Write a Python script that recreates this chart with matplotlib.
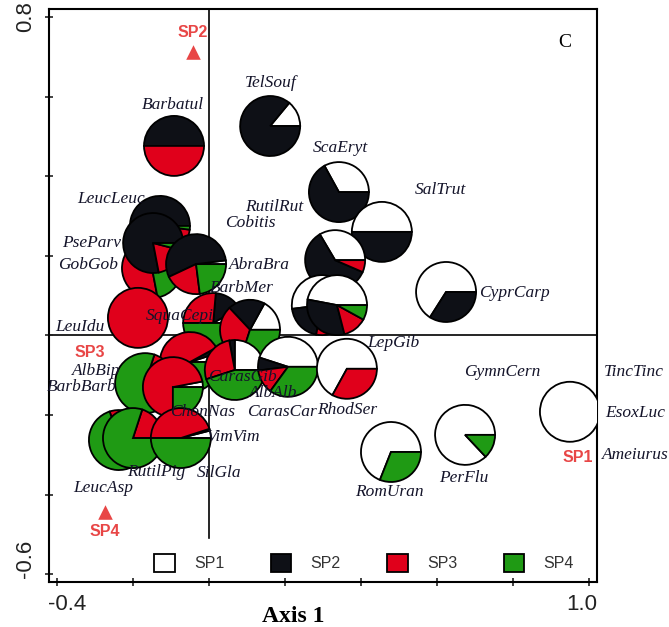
import matplotlib.pyplot as plt
import numpy as np
from matplotlib.patches import Wedge, Patch
from matplotlib.transforms import ScaledTranslation

groups = ["SP1", "SP2", "SP3", "SP4"]
group_colors = ["white", "#0e1016", "#e0001b", "#1f9a14"]

# pie centres on axis 1 / axis 2 and their shares of SP1..SP4
pie_x = [-0.092, 0.161, 0.342, 0.455, 0.332, 0.297, 0.337, 0.624,
         -0.150, -0.129, -0.147, -0.034, -0.187, 0.011, 0.108, -0.050,
         0.068, 0.208, -0.168, -0.095, -0.237, -0.200, -0.074,
         0.363, 0.479, 0.674, 0.950]
pie_y = [0.476, 0.526, 0.360, 0.260, 0.189, 0.076, 0.076, 0.109,
         0.169, 0.275, 0.232, 0.179, 0.044, 0.031, 0.014, -0.067,
         -0.087, -0.079, -0.120, -0.130, -0.263, -0.258, -0.258,
         -0.084, -0.293, -0.250, -0.192]
pie_shares = [
    [0.00, 0.50, 0.50, 0.00],
    [0.14, 0.86, 0.00, 0.00],
    [0.33, 0.67, 0.00, 0.00],
    [0.50, 0.50, 0.00, 0.00],
    [0.335, 0.60, 0.065, 0.00],
    [0.52, 0.20, 0.18, 0.10],
    [0.47, 0.32, 0.13, 0.08],
    [0.66, 0.34, 0.00, 0.00],
    [0.00, 0.05, 0.73, 0.22],
    [0.00, 0.92, 0.06, 0.02],
    [0.00, 0.78, 0.18, 0.04],
    [0.02, 0.55, 0.20, 0.23],
    [0.00, 0.00, 1.00, 0.00],
    [0.083, 0.153, 0.264, 0.50],
    [0.17, 0.20, 0.33, 0.30],
    [0.05, 0.03, 0.52, 0.40],
    [0.25, 0.03, 0.27, 0.45],
    [0.45, 0.07, 0.13, 0.35],
    [0.00, 0.00, 0.20, 0.80],
    [0.03, 0.00, 0.72, 0.25],
    [0.00, 0.00, 0.30, 0.70],
    [0.00, 0.00, 0.20, 0.80],
    [0.04, 0.01, 0.45, 0.50],
    [0.67, 0.00, 0.33, 0.00],
    [0.69, 0.00, 0.00, 0.31],
    [0.87, 0.00, 0.00, 0.13],
    [1.00, 0.00, 0.00, 0.00],
]

species = ["Barbatul", "TelSouf", "ScaEryt", "SalTrut", "CyprCarp", "RutilRut",
           "Cobitis", "LeucLeuc", "PseParv", "GobGob", "AbraBra", "BarbMer",
           "SquaCepi", "LeuIdu", "AlbBip", "BarbBarb", "CarasGib", "AlbAlb",
           "ChonNas", "CarasCar", "RhodSer", "LepGib", "VimVim", "RutilPig",
           "SilGla", "LeucAsp", "GymnCern", "TincTinc", "EsoxLuc", "Ameiurus",
           "PerFlu", "RomUran"]
species_x = [-0.095, 0.163, 0.345, 0.608, 0.805, 0.171,
             0.108, -0.258, -0.308, -0.318, 0.134, 0.087,
             -0.076, -0.339, -0.297, -0.334, 0.089, 0.168,
             -0.016, 0.192, 0.363, 0.484, 0.063, -0.139,
             0.026, -0.279, 0.771, 1.118, 1.121, 1.121,
             0.671, 0.476]
species_y = [0.579, 0.634, 0.471, 0.365, 0.107, 0.323,
             0.282, 0.343, 0.232, 0.177, 0.177, 0.119,
             0.049, 0.021, -0.089, -0.130, -0.105, -0.145,
             -0.192, -0.192, -0.187, -0.019, -0.255, -0.343,
             -0.346, -0.383, -0.092, -0.092, -0.195, -0.301,
             -0.358, -0.393]

# group (site profile) points and where their names sit
sp_x = [0.950, -0.042, -0.190, -0.274]
sp_y = [-0.210, 0.712, 0.030, -0.444]
sp_label_x = [0.971, -0.042, -0.313, -0.274]
sp_label_y = [-0.308, 0.762, -0.044, -0.494]

fig = plt.figure(figsize=(6.69, 6.27), dpi=100)
ax = fig.add_axes([0.0732, 0.0718, 0.8191, 0.9131])
ax.set_xlim(-0.4211, 1.0211)
ax.set_ylim(-0.6196, 0.8188)

ax.axhline(0, color="black", lw=1.2, zorder=1)
ax.axvline(0, ymin=0.077, ymax=1, color="black", lw=1.2, zorder=1)

ax.scatter(sp_x, sp_y, marker="^", s=110, color="#e84646", zorder=2, linewidths=0)
for name, lx, ly in zip(groups, sp_label_x, sp_label_y):
    ax.text(lx, ly, name, color="#e84646", fontsize=11.5, fontweight="bold",
            family="Liberation Sans", ha="center", va="center", zorder=6)

radius = 0.30  # inches
for k, (x, y, shares) in enumerate(zip(pie_x, pie_y, pie_shares)):
    trans = fig.dpi_scale_trans + ScaledTranslation(x, y, ax.transData)
    start = 0.0
    for share, color in zip(shares, group_colors):
        if share <= 0:
            continue
        end = start + 360 * share
        w = Wedge((0, 0), radius, start, end, facecolor=color, edgecolor="black",
                  lw=1.3, transform=trans, zorder=3 + k * 0.01)
        ax.add_artist(w)
        start = end

for name, x, y in zip(species, species_x, species_y):
    ax.text(x, y, name, family="Liberation Serif", style="italic", fontsize=12.5,
            color="#14142a", ha="center", va="center", zorder=5)

ax.text(0.942, 0.943, "C", transform=ax.transAxes, family="Liberation Serif",
        fontsize=14, ha="center", va="center")

handles = [Patch(facecolor=c, edgecolor="black", lw=1.3) for c in group_colors]
ax.legend(handles, groups, ncol=4, loc="center", bbox_to_anchor=(0.575, 0.033),
          frameon=False, prop={"family": "Liberation Sans", "size": 11.5},
          labelcolor="#333333", handlelength=1.3, handleheight=1.3,
          handletextpad=1.2, columnspacing=2.9)

xt = np.round(np.arange(-0.4, 1.01, 0.2), 1)
yt = np.round(np.arange(-0.6, 0.81, 0.2), 1)
ax.set_xticks(xt)
ax.set_xticklabels(["-0.4" if v == -0.4 else "1.0" if v == 1.0 else "" for v in xt])
ax.set_yticks(yt)
ax.set_yticklabels(["-0.6" if v == -0.6 else "0.8" if v == 0.8 else "" for v in yt],
                   rotation=90, va="center")
ax.tick_params(direction="inout", length=6, width=1.2, colors="#222222",
               labelsize=16, pad=6)
for lab in ax.get_xticklabels() + ax.get_yticklabels():
    lab.set_family("Liberation Sans")

# nudge the end labels the way the original sits them
shifts = {"-0.4": (0.10, 0), "1.0": (-0.07, 0), "-0.6": (0, 0.15)}
for lab in ax.get_xticklabels() + ax.get_yticklabels():
    dx, dy = shifts.get(lab.get_text(), (0, 0))
    if dx or dy:
        lab.set_transform(lab.get_transform()
                          + ScaledTranslation(dx, dy, fig.dpi_scale_trans))

for s in ax.spines.values():
    s.set_linewidth(1.5)

ax.set_xlabel("Axis 1", family="Liberation Serif", fontweight="bold", fontsize=17)
ax.xaxis.set_label_coords(0.445, -0.042)

fig.savefig("out.png", dpi=100)
